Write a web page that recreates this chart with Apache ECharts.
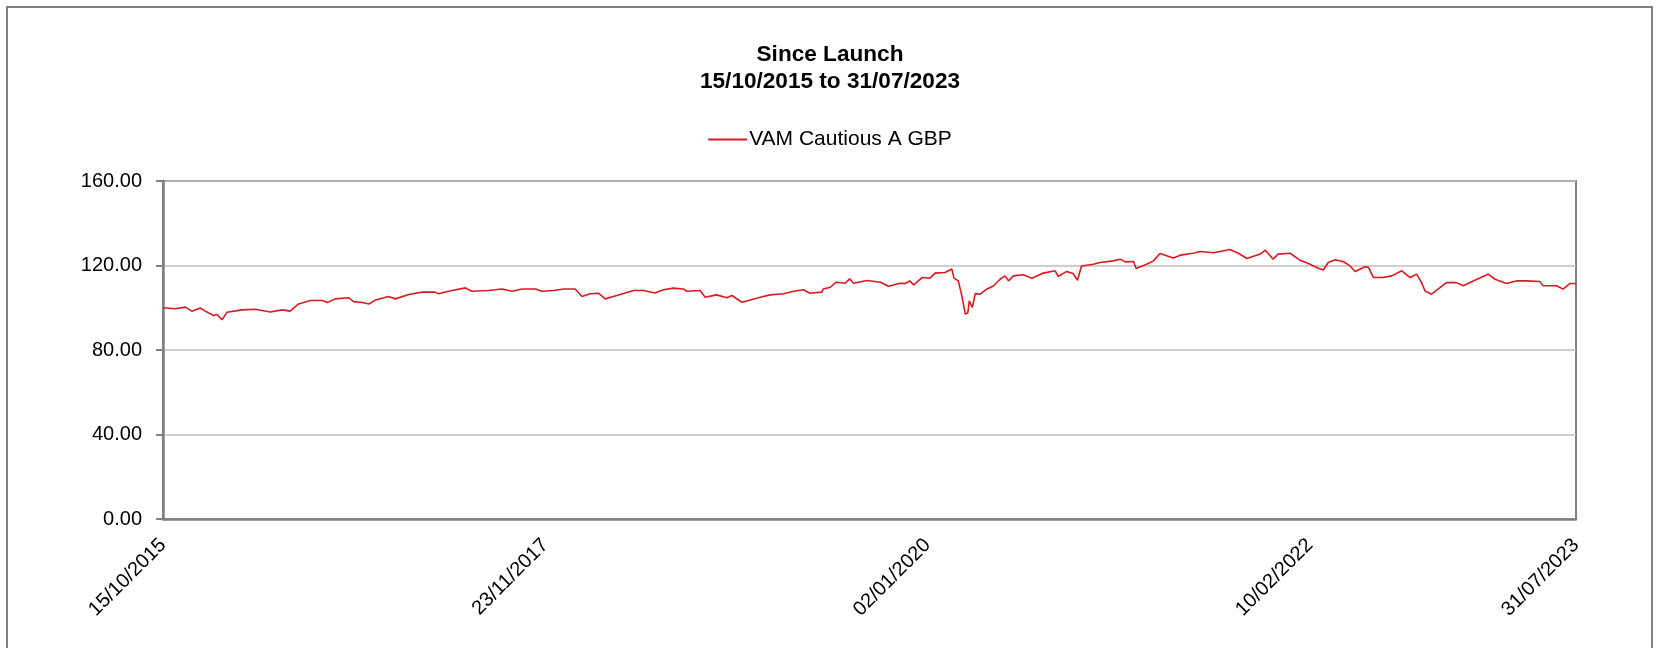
<!DOCTYPE html>
<html>
<head>
<meta charset="utf-8">
<title>Since Launch</title>
<script src="https://cdn.jsdelivr.net/npm/echarts@6/dist/echarts.min.js"></script>
<style>
    html, body {margin: 0; padding: 0; background: #fff;}
    #since_launch_chart {width: 1660px; height: 648px;}
</style>
</head>
<body>
<div id="since_launch_chart"></div>
<script>
//fund name and period
var fundName = 'VAM Cautious A GBP';
var startDate = '2015-10-15';
var endDate = '2023-07-31';

//x axis labels
var xLabelDates = ['2015-10-15', '2017-11-23', '2020-01-02', '2022-02-10', '2023-07-31'];

//y axis ticks
var yMin = 0;
var yMax = 160;
var yStep = 40;

//price
var priceDates = [
    '2015-10-15', '2015-11-09', '2015-11-29', '2015-12-12', '2015-12-29', '2016-01-08', '2016-01-25', '2016-02-01',
    '2016-02-11', '2016-02-21', '2016-03-22', '2016-04-18', '2016-05-18', '2016-06-11', '2016-06-27', '2016-07-14',
    '2016-08-07', '2016-08-31', '2016-09-10', '2016-09-26', '2016-10-23', '2016-11-02', '2016-11-19', '2016-12-03',
    '2016-12-16', '2017-01-11', '2017-01-25', '2017-02-21', '2017-03-20', '2017-04-15', '2017-04-22', '2017-05-12',
    '2017-06-15', '2017-06-28', '2017-08-01', '2017-08-28', '2017-09-17', '2017-10-07', '2017-11-03', '2017-11-16',
    '2017-12-10', '2017-12-30', '2018-01-22', '2018-02-05', '2018-02-21', '2018-03-10', '2018-03-24', '2018-04-16',
    '2018-05-20', '2018-06-09', '2018-07-02', '2018-07-19', '2018-08-08', '2018-08-28', '2018-09-04', '2018-10-01',
    '2018-10-11', '2018-11-03', '2018-11-24', '2018-12-04', '2018-12-24', '2019-01-10', '2019-01-30', '2019-02-19',
    '2019-03-18', '2019-04-07', '2019-04-27', '2019-05-10', '2019-06-03', '2019-06-06', '2019-06-20', '2019-07-02',
    '2019-07-20', '2019-07-29', '2019-08-06', '2019-09-02', '2019-09-29', '2019-10-15', '2019-11-08', '2019-11-18',
    '2019-11-27', '2019-12-05', '2019-12-22', '2020-01-07', '2020-01-17', '2020-02-06', '2020-02-20', '2020-02-24',
    '2020-03-04', '2020-03-11', '2020-03-18', '2020-03-23', '2020-03-26', '2020-04-01', '2020-04-07', '2020-04-17',
    '2020-04-30', '2020-05-14', '2020-05-27', '2020-06-06', '2020-06-13', '2020-06-23', '2020-07-13', '2020-07-30',
    '2020-08-22', '2020-09-15', '2020-09-21', '2020-10-08', '2020-10-21', '2020-10-30', '2020-11-07', '2020-12-01',
    '2020-12-14', '2021-01-10', '2021-01-24', '2021-02-03', '2021-02-20', '2021-02-25', '2021-03-18', '2021-04-01',
    '2021-04-14', '2021-05-11', '2021-05-25', '2021-06-20', '2021-07-04', '2021-07-31', '2021-09-02', '2021-09-19',
    '2021-10-06', '2021-11-02', '2021-11-12', '2021-11-28', '2021-12-08', '2022-01-01', '2022-01-21', '2022-02-07',
    '2022-02-27', '2022-03-09', '2022-03-19', '2022-04-02', '2022-04-18', '2022-05-02', '2022-05-12', '2022-06-01',
    '2022-06-08', '2022-06-18', '2022-07-08', '2022-07-25', '2022-08-14', '2022-08-31', '2022-09-13', '2022-09-23',
    '2022-09-30', '2022-10-13', '2022-10-30', '2022-11-12', '2022-12-02', '2022-12-16', '2023-01-05', '2023-02-04',
    '2023-02-18', '2023-03-13', '2023-04-02', '2023-04-22', '2023-05-19', '2023-05-26', '2023-06-22', '2023-07-05',
    '2023-07-19', '2023-07-31'
];
var priceValues = [
    100.0, 99.5, 100.3, 98.4, 99.9, 98.4, 96.3, 96.8,
    94.3, 97.9, 99.0, 99.3, 98.0, 99.0, 98.4, 101.8,
    103.4, 103.4, 102.5, 104.2, 104.7, 102.9, 102.5, 101.8,
    103.7, 105.3, 104.2, 106.3, 107.4, 107.4, 106.6, 107.8,
    109.4, 107.8, 108.2, 108.9, 107.8, 108.9, 108.9, 107.8,
    108.2, 108.9, 108.9, 105.3, 106.6, 106.9, 104.2, 105.8,
    108.2, 108.2, 107.0, 108.5, 109.3, 108.9, 107.8, 108.2,
    105.0, 106.1, 104.7, 105.8, 102.6, 103.7, 105.0, 106.1,
    106.6, 107.8, 108.5, 106.9, 107.4, 108.9, 109.7, 112.1,
    111.6, 113.7, 111.6, 112.9, 112.1, 110.2, 111.6, 111.5,
    112.7, 110.8, 114.3, 114.0, 116.4, 116.7, 118.3, 114.0,
    112.7, 105.6, 97.0, 97.5, 103.3, 100.1, 106.7, 106.4,
    108.8, 110.4, 113.5, 115.1, 112.7, 115.1, 115.6, 114.0,
    116.4, 117.5, 114.8, 117.2, 116.2, 113.0, 119.8, 120.6,
    121.4, 122.2, 123.0, 121.7, 121.9, 118.6, 120.6, 122.2,
    125.7, 123.5, 124.9, 125.8, 126.6, 126.0, 127.6, 125.8,
    123.3, 125.4, 127.3, 123.0, 125.4, 125.8, 122.5, 120.9,
    118.7, 117.9, 121.4, 122.7, 121.9, 119.8, 117.2, 119.4,
    119.1, 114.3, 114.3, 115.1, 117.5, 114.3, 115.9, 111.9,
    107.9, 106.4, 109.5, 111.9, 111.9, 110.4, 112.7, 115.9,
    113.5, 111.5, 112.7, 112.7, 112.4, 110.4, 110.4, 108.8,
    111.5, 111.5
];

function toTime(s) {
    var p = s.split('-');
    return new Date(+p[0], +p[1] - 1, +p[2]).getTime();
}
function pad2(n) {
    return n < 10 ? '0' + n : '' + n;
}

var seriesData = [];
for (var i = 0; i < priceDates.length; i++) {
    seriesData.push([toTime(priceDates[i]), priceValues[i]]);
}

var fontName = '"Liberation Sans", Arial, sans-serif';
var sinceLaunchChartObj = echarts.init(document.getElementById('since_launch_chart'));
var sinceLaunchChartObjOption = {
    backgroundColor: '#fff',
    animation: false,
    textStyle: {fontFamily: fontName},
    graphic: [{
        type: 'rect',
        shape: {x: 7, y: 7, width: 1645, height: 700},
        style: {fill: 'none', stroke: '#808080', lineWidth: 2}
    }],
    title: {
        text: 'Since Launch\n15/10/2015 to 31/07/2023',
        left: 'center',
        top: 41,
        padding: 0,
        textStyle: {
            fontSize: 22.6,
            fontWeight: 'bold',
            lineHeight: 27,
            color: '#000',
            fontFamily: fontName
        }
    },
    legend: {
        top: 124,
        left: 'center',
        icon: 'rect',
        itemWidth: 39,
        itemHeight: 2,
        itemGap: 4,
        data: [fundName],
        textStyle: {fontSize: 21, color: '#000', fontFamily: fontName, padding: [0, 0, 0, -3]}
    },
    grid: {
        left: 163,
        right: 84,
        top: 181,
        bottom: 129,
        show: true,
        borderColor: '#808080',
        borderWidth: 2
    },
    //dates kept as numbers so the labels can sit on the five dates only
    xAxis: {
        type: 'value',
        min: toTime(startDate),
        max: toTime(endDate),
        axisLine: {lineStyle: {color: '#808080', width: 2.5}},
        axisTick: {show: false},
        splitLine: {show: false},
        axisLabel: {
            customValues: xLabelDates.map(toTime),
            rotate: 45,
            margin: 23,
            fontSize: 20,
            color: '#000',
            fontFamily: fontName,
            formatter: function (value) {
                var d = new Date(value);
                return pad2(d.getDate()) + '/' + pad2(d.getMonth() + 1) + '/' + d.getFullYear();
            }
        }
    },
    yAxis: {
        type: 'value',
        min: yMin,
        max: yMax,
        interval: yStep,
        axisLine: {show: true, lineStyle: {color: '#808080', width: 2.5}},
        axisTick: {show: true, length: 7, lineStyle: {color: '#808080', width: 2}},
        splitLine: {lineStyle: {color: '#bfbfbf', width: 1.5}},
        axisLabel: {
            margin: 21,
            fontSize: 20,
            color: '#000',
            fontFamily: fontName,
            formatter: function (v) {
                return v.toFixed(2);
            }
        }
    },
    series: [
        {
            name: fundName,
            type: 'line',
            symbol: 'none',
            color: '#d91a22',
            lineStyle: {color: '#d91a22', width: 1.6},
            data: seriesData
        }
    ]
};
sinceLaunchChartObj.setOption(sinceLaunchChartObjOption);
</script>
</body>
</html>
